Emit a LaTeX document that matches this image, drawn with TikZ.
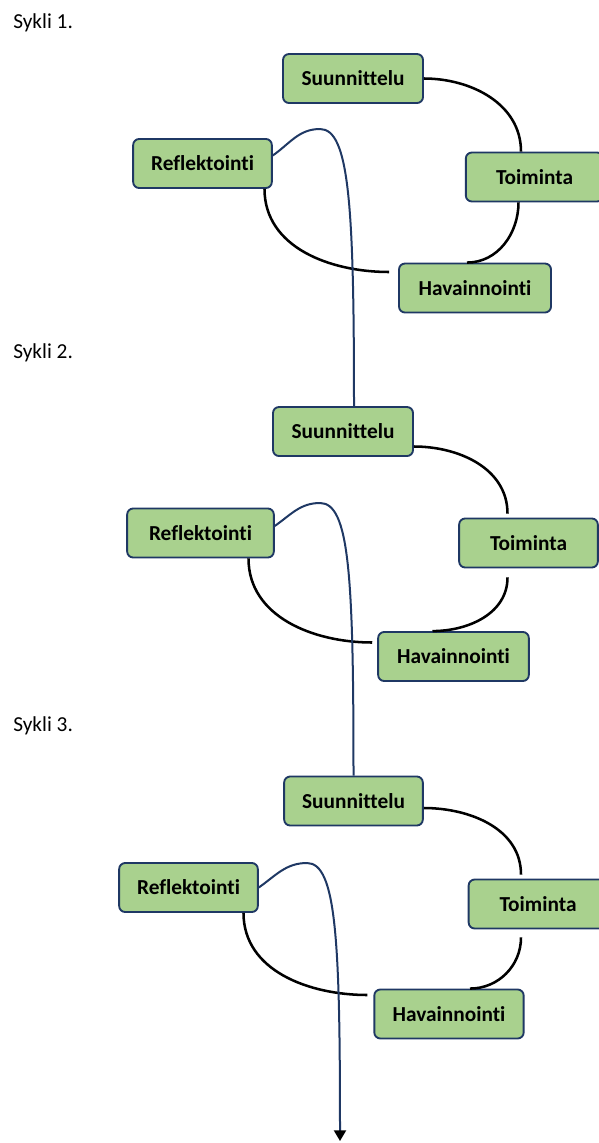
\documentclass[tikz,border=0pt]{standalone}
\usepackage{fontspec}
\setmainfont{Carlito}[Ligatures=NoCommon]
\usepackage{xcolor}
\usepackage{tikz}
\usetikzlibrary{calc,arrows.meta}

\definecolor{vihrea}{HTML}{A9D18E}
\definecolor{reuna}{HTML}{1F3864}

\tikzset{
	vaihe/.style={draw=reuna, fill=vihrea, rounded corners=4.5pt, line width=1.4pt,
		minimum height=36.75pt, inner sep=0pt, font=\bfseries},
	kaari/.style={black, line width=1.9pt},
	siirto/.style={reuna, line width=1.5pt}
}

\begin{document}
\begin{tikzpicture}[x=0.75pt,y=-0.75pt]
	\fontsize{16}{19}\selectfont
	\clip (0,0) rectangle (599,1143);
	
	% Sykli 1
	\node[anchor=base west,inner sep=0pt] (otsikko1) at (13,28) {Sykli 1.};
	\node[vaihe,minimum width=105pt] (s1) at (353,78.5) {Suunnittelu};
	\node[vaihe,minimum width=104pt] (r1) at (202.5,163.5) {Reflektointi};
	\node[vaihe,minimum width=103pt] (t1) at (534.5,177) {Toiminta};
	\node[vaihe,minimum width=114pt] (h1) at (475,288) {Havainnointi};
	\coordinate (k1) at (320,129);
	
	% Sykli 2
	\node[anchor=base west,inner sep=0pt] (otsikko2) at (13,358) {Sykli 2.};
	\node[vaihe,minimum width=105pt] (s2) at (343,431.5) {Suunnittelu};
	\node[vaihe,minimum width=110pt] (r2) at (200.5,533) {Reflektointi};
	\node[vaihe,minimum width=104pt] (t2) at (528.5,543) {Toiminta};
	\node[vaihe,minimum width=113pt] (h2) at (453.5,656.5) {Havainnointi};
	\coordinate (k2) at (320,503);
	
	% Sykli 3
	\node[anchor=base west,inner sep=0pt] (otsikko3) at (13,731) {Sykli 3.};
	\node[vaihe,minimum width=104pt] (s3) at (353.5,801) {Suunnittelu};
	\node[vaihe,minimum width=104pt] (r3) at (188.5,887.5) {Reflektointi};
	\node[vaihe,minimum width=104pt] (t3) at (538,904) {Toiminta};
	\node[vaihe,minimum width=112pt] (h3) at (449,1014) {Havainnointi};
	\coordinate (k3) at (307,863);
	\coordinate (loppu) at (340,1141);
	
	% kaaret
	\draw[kaari] (s1.east) to[out=0,in=90] ($(t1.north)+(-13.5,0)$);
	\draw[kaari] ($(t1.south)+(-16,0)$) to[out=-90,in=0] ($(h1.north)+(-8,0)$);
	\draw[kaari] ($(r1.south)+(62,0)$) to[out=-90,in=180] ($(h1.west)+(-9,-16)$);
	
	\draw[kaari] ($(s2.east)+(0,15)$) to[out=0,in=90] ($(t2.north)+(-21,-4)$);
	\draw[kaari] ($(t2.south)+(-21,9)$) to[out=-90,in=0] ($(h2.north)+(-21,0)$);
	\draw[kaari] ($(r2.south)+(48,0)$) to[out=-90,in=180] ($(h2.west)+(-5,-14)$);
	
	\draw[kaari] ($(s3.east)+(0,7)$) to[out=0,in=90] ($(t3.north)+(-17,-4)$);
	\draw[kaari] ($(t3.south)+(-17,8)$) to[out=-90,in=0] ($(h3.north)+(21,0)$);
	\draw[kaari] ($(r3.south)+(55,0)$) to[out=-90,in=180] ($(h3.west)+(-6,-19)$);
	
	% siirrot seuraavaan sykliin
	\draw[siirto] ($(r1.east)+(0,-8)$) to[out=35,in=180] (k1)
		to[out=0,in=90,out distance=22pt,in distance=150pt] ($(s2.north)+(11,0)$);
	\draw[siirto] ($(r2.east)+(0,-7)$) to[out=35,in=180] (k2)
		to[out=0,in=90,out distance=22pt,in distance=150pt] (s3.north);
	\draw[siirto,-{Triangle[color=black,width=9pt,length=8pt]}] (r3.east) to[out=35,in=180] (k3)
		to[out=0,in=90,out distance=22pt,in distance=150pt] (loppu);
\end{tikzpicture}
\end{document}
